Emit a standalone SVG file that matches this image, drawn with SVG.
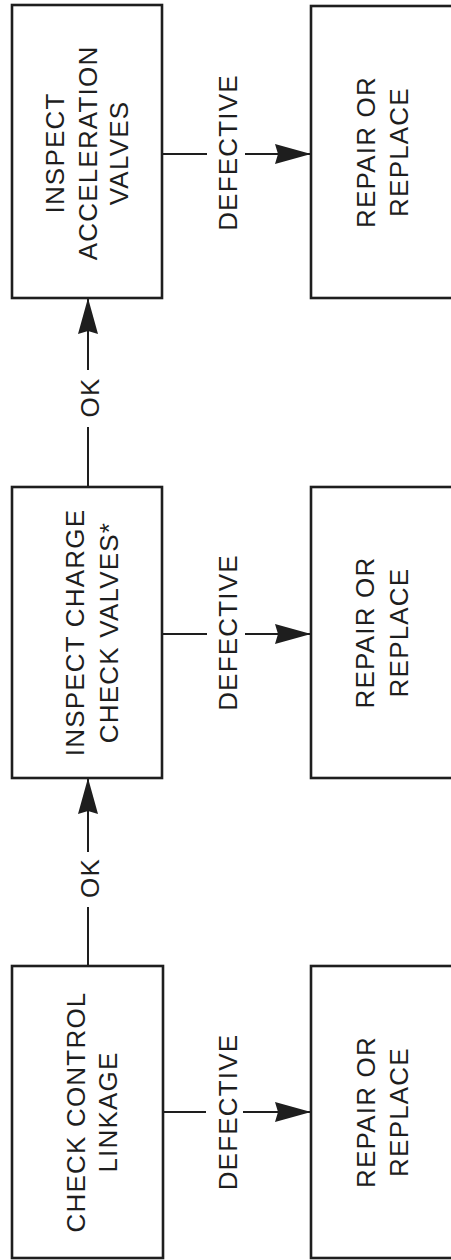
<svg xmlns="http://www.w3.org/2000/svg" width="451" height="1260" viewBox="0 0 451 1260">
<style>
.box{fill:none;stroke:#1e1e1e;stroke-width:2.6}
.ln{fill:none;stroke:#1e1e1e;stroke-width:2}
.t{font-family:"Liberation Sans",Arial,Helvetica,sans-serif;font-size:26px;letter-spacing:1.2px;fill:#1e1e1e;text-anchor:middle}
</style>
<defs>
<marker id="ah" markerWidth="36" markerHeight="20" refX="36" refY="10" orient="auto" markerUnits="userSpaceOnUse">
<path d="M0,0 L36,10 L0,20 L3,10 Z" fill="#1e1e1e"/>
</marker>
</defs>
<rect width="451" height="1260" fill="#ffffff"/>
<g id="connectors">
<line class="ln" x1="162" y1="154" x2="207" y2="154"/>
<line class="ln" x1="245" y1="154" x2="311" y2="154" marker-end="url(#ah)"/>
<text class="t" transform="translate(0,152.5) rotate(-90)" y="237">DEFECTIVE</text>
<line class="ln" x1="162" y1="634" x2="207" y2="634"/>
<line class="ln" x1="245" y1="634" x2="311" y2="634" marker-end="url(#ah)"/>
<text class="t" transform="translate(0,632.5) rotate(-90)" y="237">DEFECTIVE</text>
<line class="ln" x1="163" y1="1112" x2="206" y2="1112"/>
<line class="ln" x1="243" y1="1112" x2="311" y2="1112" marker-end="url(#ah)"/>
<text class="t" transform="translate(0,1112) rotate(-90)" y="237">DEFECTIVE</text>
<line class="ln" x1="88" y1="487" x2="88" y2="427"/>
<line class="ln" x1="88" y1="370" x2="88" y2="298" marker-end="url(#ah)"/>
<text class="t" transform="translate(0,397.5) rotate(-90)" y="99">OK</text>
<line class="ln" x1="88" y1="966" x2="88" y2="907"/>
<line class="ln" x1="88" y1="852" x2="88" y2="778" marker-end="url(#ah)"/>
<text class="t" transform="translate(0,878) rotate(-90)" y="99">OK</text>
</g>
<g id="inspect-acceleration">
<rect class="box" x="12" y="5" width="150" height="293"/>
<text class="t" transform="translate(0,153) rotate(-90)"><tspan x="0" y="64">INSPECT</tspan><tspan x="0" y="97">ACCELERATION</tspan><tspan x="0" y="128">VALVES</tspan></text>
</g>
<g id="repair-1">
<rect class="box" x="311" y="6" width="150" height="292"/>
<text class="t" transform="translate(0,152) rotate(-90)"><tspan x="0" y="375">REPAIR OR</tspan><tspan x="0" y="408">REPLACE</tspan></text>
</g>
<g id="inspect-charge">
<rect class="box" x="12" y="487" width="150" height="291"/>
<text class="t" transform="translate(0,632.5) rotate(-90)"><tspan x="0" y="84">INSPECT CHARGE</tspan><tspan x="0" y="118">CHECK VALVES*</tspan></text>
</g>
<g id="repair-2">
<rect class="box" x="311" y="487" width="150" height="291"/>
<text class="t" transform="translate(0,632.5) rotate(-90)"><tspan x="0" y="374">REPAIR OR</tspan><tspan x="0" y="408">REPLACE</tspan></text>
</g>
<g id="check-linkage">
<rect class="box" x="12" y="966" width="151" height="292"/>
<text class="t" transform="translate(0,1112) rotate(-90)"><tspan x="0" y="85">CHECK CONTROL</tspan><tspan x="0" y="117">LINKAGE</tspan></text>
</g>
<g id="repair-3">
<rect class="box" x="311" y="966" width="150" height="292"/>
<text class="t" transform="translate(0,1112) rotate(-90)"><tspan x="0" y="375">REPAIR OR</tspan><tspan x="0" y="408">REPLACE</tspan></text>
</g>
</svg>
